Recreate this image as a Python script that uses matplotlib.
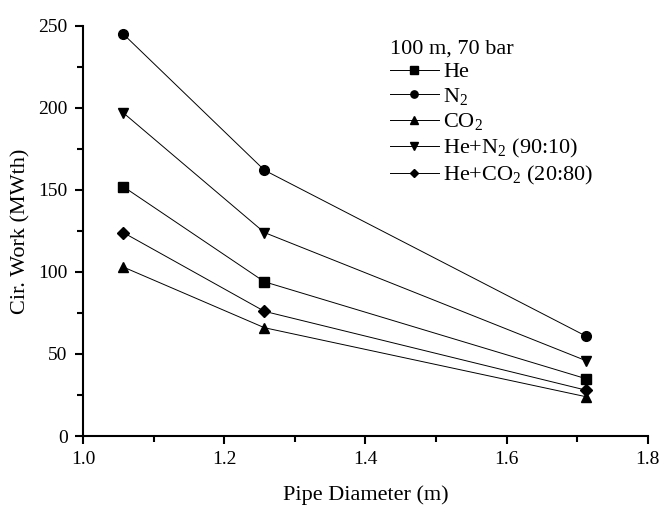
import matplotlib
matplotlib.use("Agg")
import matplotlib.pyplot as plt
from matplotlib.ticker import MultipleLocator

plt.rcParams["font.family"] = ["Liberation Serif", "DejaVu Serif"]
plt.rcParams["mathtext.fontset"] = "custom"
plt.rcParams["mathtext.rm"] = "Liberation Serif"

diameter = [1.057, 1.257, 1.712]
he = [152, 94, 35]
n2 = [245, 162, 61]
co2 = [103, 66, 24]
he_n2 = [197, 124, 46]
he_co2 = [124, 76, 28]

series = [
    (he, "s", "He"),
    (n2, "o", "N$_2$"),
    (co2, "^", "CO$_2$"),
    (he_n2, "v", "He+N$_2$ (90:10)"),
    (he_co2, "D", "He+CO$_2$ (20:80)"),
]

fig = plt.figure(figsize=(6.66, 5.16), dpi=100)
ax = fig.add_axes([0.1246, 0.155, 0.848, 0.795])
for vals, mk, lab in series:
    ax.plot(diameter, vals, color="k", lw=0.7, marker=mk,
            ms=7 if mk != "D" else 6, label=lab)

ax.set_xlim(1.0, 1.8)
ax.set_ylim(0, 250)
ax.xaxis.set_major_locator(MultipleLocator(0.2))
ax.xaxis.set_minor_locator(MultipleLocator(0.1))
ax.yaxis.set_major_locator(MultipleLocator(50))
ax.yaxis.set_minor_locator(MultipleLocator(25))
ax.xaxis.set_major_formatter(plt.FormatStrFormatter("%.1f"))
for s in ("top", "right"):
    ax.spines[s].set_visible(False)
for s in ("left", "bottom"):
    ax.spines[s].set_linewidth(1.5)
ax.tick_params(which="both", direction="out", width=1.5, labelsize=14)
ax.tick_params(which="major", length=6, pad=5)
ax.tick_params(which="minor", length=4)
ax.set_xlabel("Pipe Diameter (m)", fontsize=16, labelpad=12)
ax.set_ylabel("Cir. Work (MWth)", fontsize=16, labelpad=6)

leg = ax.legend(title="100 m, 70 bar", frameon=False, fontsize=16,
                title_fontsize=16, loc="upper left",
                bbox_to_anchor=(0.52, 1.0), handlelength=2.2,
                handletextpad=0.2, labelspacing=0.17, markerscale=0.75,
                borderaxespad=0.2)
leg._legend_box.align = "left"

fig.savefig("out.png", dpi=100)
